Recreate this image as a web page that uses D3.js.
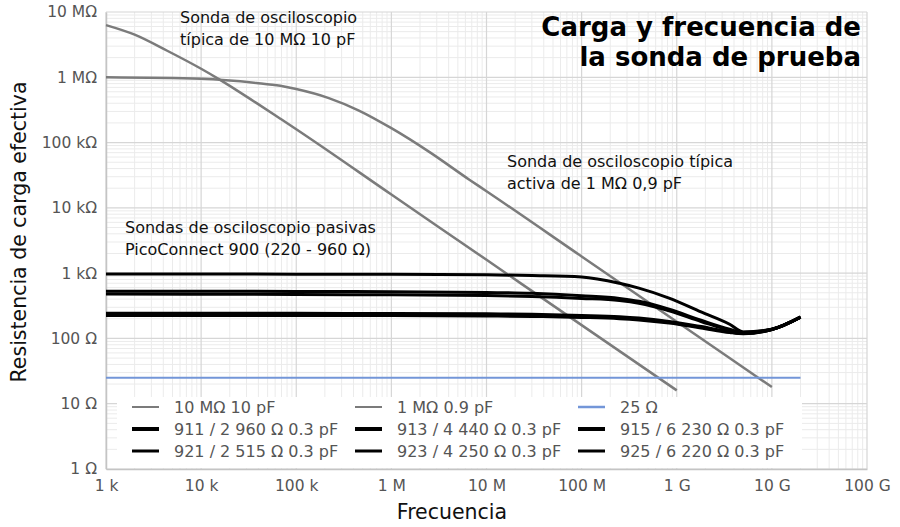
<!DOCTYPE html>
<html lang="es">
<head>
<meta charset="UTF-8">
<title>Carga y frecuencia de la sonda de prueba</title>
<script src="https://d3js.org/d3.v7.min.js"></script>
<style>
  body { margin: 0; background: #fff; }
  svg { display: block; font-family: "DejaVu Sans", Verdana, sans-serif; }
</style>
</head>
<body>
<div id="chart"></div>
<script>
// frequency (Hz) and effective load (ohm)
const scope10MFreq = [1e3, 2e3, 4.4e3, 1e4, 1.55e4, 3.8e4, 6.8e4, 1e5, 1e6, 1e7, 1e8, 1e9];
const scope10MOhm  = [6.3e6, 4.5e6, 2.55e6, 1.35e6, 0.93e6, 4.05e5, 2.32e5, 1.6e5, 1.6e4, 1.6e3, 160, 16];

const active1MFreq = [1e3, 1e4, 3.8e4, 6.8e4, 1e5, 2.2e5, 4.5e5, 1e6, 2.5e6, 6.6e6, 1e7, 1e8, 1e9, 1e10];
const active1MOhm  = [1.0e6, 0.95e6, 8.2e5, 7.4e5, 6.6e5, 4.8e5, 3.12e5, 1.66e5, 7.2e4, 2.7e4, 1.8e4, 1.8e3, 180, 18];

const refFreq = [1e3, 2e10];
const refOhm  = [25, 25];

const picoFreq = [1e3, 1e5, 1e6, 1e7, 3e7, 1e8, 2.5e8, 4e8, 8.3e8, 1.8e9, 3.6e9, 5e9, 1e10, 2e10];
const pico911 = [242, 242, 241, 238, 234, 225, 215, 205, 182, 152, 127, 120, 137, 212];
const pico913 = [530, 525, 520, 505, 490, 450, 410, 370, 280, 190, 138, 124, 138, 212];
const pico915 = [970, 965, 960, 945, 920, 875, 700, 590, 415, 255, 165, 126, 138, 212];
const pico921 = [233, 233, 232, 229, 225, 217, 208, 198, 177, 148, 125, 119, 137, 212];
const pico923 = [478, 472, 465, 455, 440, 410, 380, 345, 265, 182, 133, 122, 138, 212];
const pico925 = [225, 225, 224, 221, 217, 210, 201, 192, 172, 145, 123, 118, 137, 212];

const xTicks = [1e3, 1e4, 1e5, 1e6, 1e7, 1e8, 1e9, 1e10, 1e11];
const xTickLabels = ["1 k", "10 k", "100 k", "1 M", "10 M", "100 M", "1 G", "10 G", "100 G"];
const yTicks = [1, 10, 100, 1e3, 1e4, 1e5, 1e6, 1e7];
const yTickLabels = ["1 Ω", "10 Ω", "100 Ω", "1 kΩ", "10 kΩ", "100 kΩ", "1 MΩ", "10 MΩ"];

const series = [
  { name: "10 MΩ 10 pF", f: scope10MFreq, r: scope10MOhm, color: "#7b7b7b", w: 2.5, lw: 2 },
  { name: "1 MΩ 0.9 pF", f: active1MFreq, r: active1MOhm, color: "#7b7b7b", w: 2.5, lw: 2 },
  { name: "25 Ω", f: refFreq, r: refOhm, color: "#7396d8", w: 2, lw: 2.5 },
  { name: "911 / 2 960 Ω 0.3 pF", f: picoFreq, r: pico911, color: "#000", w: 3, lw: 4 },
  { name: "913 / 4 440 Ω 0.3 pF", f: picoFreq, r: pico913, color: "#000", w: 3, lw: 4 },
  { name: "915 / 6 230 Ω 0.3 pF", f: picoFreq, r: pico915, color: "#000", w: 3, lw: 4 },
  { name: "921 / 2 515 Ω 0.3 pF", f: picoFreq, r: pico921, color: "#000", w: 3, lw: 3 },
  { name: "923 / 4 250 Ω 0.3 pF", f: picoFreq, r: pico923, color: "#000", w: 3, lw: 3 },
  { name: "925 / 6 220 Ω 0.3 pF", f: picoFreq, r: pico925, color: "#000", w: 3, lw: 3 }
];

const W = 900, H = 527;
const plot = { left: 106, right: 867, top: 12, bottom: 469 };

const svg = d3.select("#chart").append("svg")
  .attr("width", W).attr("height", H);

const x = d3.scaleLog().domain([1e3, 1e11]).range([plot.left, plot.right]);
const y = d3.scaleLog().domain([1, 1e7]).range([plot.bottom, plot.top]);

// grid: minor lines 2..9 in each decade, then decade lines
const minorX = [], minorY = [];
for (let d = 3; d < 11; d++) for (let m = 2; m <= 9; m++) minorX.push(m * Math.pow(10, d));
for (let d = 0; d < 7; d++) for (let m = 2; m <= 9; m++) minorY.push(m * Math.pow(10, d));

const grid = svg.append("g");
grid.selectAll(".mx").data(minorX).join("line")
  .attr("x1", d => x(d)).attr("x2", d => x(d))
  .attr("y1", plot.top).attr("y2", plot.bottom)
  .attr("stroke", "#ebebeb").attr("stroke-width", 1);
grid.selectAll(".my").data(minorY).join("line")
  .attr("x1", plot.left).attr("x2", plot.right)
  .attr("y1", d => y(d)).attr("y2", d => y(d))
  .attr("stroke", "#ebebeb").attr("stroke-width", 1);
grid.selectAll(".Mx").data(xTicks).join("line")
  .attr("x1", d => x(d)).attr("x2", d => x(d))
  .attr("y1", plot.top).attr("y2", plot.bottom)
  .attr("stroke", "#d6d6d6").attr("stroke-width", 1.2);
grid.selectAll(".My").data(yTicks).join("line")
  .attr("x1", plot.left).attr("x2", plot.right)
  .attr("y1", d => y(d)).attr("y2", d => y(d))
  .attr("stroke", "#d6d6d6").attr("stroke-width", 1.2);

// axes
const xAxis = svg.append("g")
  .attr("transform", `translate(0,${plot.bottom})`)
  .call(d3.axisBottom(x).tickValues(xTicks).tickSize(0).tickPadding(11)
    .tickFormat((d, i) => xTickLabels[i]));
const yAxis = svg.append("g")
  .attr("transform", `translate(${plot.left},0)`)
  .call(d3.axisLeft(y).tickValues(yTicks).tickSize(0).tickPadding(9)
    .tickFormat((d, i) => yTickLabels[i]));
[xAxis, yAxis].forEach(a => {
  a.select(".domain").attr("stroke", "#c4c4c4").attr("stroke-width", 1.5);
  a.selectAll("text").attr("fill", "#555").style("font-size", "15.5px")
    .style("font-family", "'DejaVu Sans', Verdana, sans-serif");
});

// legend background sits over the grid
const legend = { x: 117, y: 397, colStep: 223, rowStep: 22 };
svg.append("rect")
  .attr("x", legend.x).attr("y", legend.y)
  .attr("width", 802 - legend.x).attr("height", plot.bottom - legend.y - 1)
  .attr("fill", "#fff");

// lines
const line = d3.line()
  .x(d => x(d[0])).y(d => y(d[1]))
  .curve(d3.curveMonotoneX);

svg.append("g").selectAll("path").data(series).join("path")
  .attr("d", s => line(s.f.map((f, i) => [f, s.r[i]])))
  .attr("fill", "none")
  .attr("stroke", s => s.color)
  .attr("stroke-width", s => s.w)
  .attr("stroke-linejoin", "round");

// legend items, three per row
const items = svg.append("g").selectAll("g").data(series).join("g")
  .attr("transform", (s, i) => `translate(${132 + (i % 3) * legend.colStep},${407 + Math.floor(i / 3) * legend.rowStep})`);
items.append("line")
  .attr("x1", 0).attr("x2", 27).attr("y1", 0).attr("y2", 0)
  .attr("stroke", s => s.color).attr("stroke-width", s => s.lw);
items.append("text")
  .attr("x", 42).attr("y", 5.5)
  .attr("fill", "#555").style("font-size", "16px")
  .text(s => s.name);

// annotations
const notes = [
  { x: 180, y: 23, lines: ["Sonda de osciloscopio", "típica de 10 MΩ 10 pF"] },
  { x: 125, y: 233, lines: ["Sondas de osciloscopio pasivas", "PicoConnect 900 (220 - 960 Ω)"] },
  { x: 507, y: 167, lines: ["Sonda de osciloscopio típica", "activa de 1 MΩ 0,9 pF"] }
];
notes.forEach(n => {
  const t = svg.append("text").attr("x", n.x).attr("y", n.y)
    .attr("fill", "#111").style("font-size", "16px");
  n.lines.forEach((l, i) => t.append("tspan").attr("x", n.x).attr("dy", i ? 22 : 0).text(l));
});

// title
const title = svg.append("text")
  .attr("text-anchor", "end").attr("fill", "#000")
  .style("font-size", "26px").style("font-weight", "bold");
title.append("tspan").attr("x", 861).attr("y", 36).text("Carga y frecuencia de");
title.append("tspan").attr("x", 861).attr("y", 66).text("la sonda de prueba");

// axis titles
svg.append("text")
  .attr("x", 452).attr("y", 519).attr("text-anchor", "middle")
  .attr("fill", "#111").style("font-size", "20.5px")
  .text("Frecuencia");
svg.append("text")
  .attr("transform", "translate(26,232) rotate(-90)")
  .attr("text-anchor", "middle")
  .attr("fill", "#111").style("font-size", "20.5px")
  .text("Resistencia de carga efectiva");
</script>
</body>
</html>
